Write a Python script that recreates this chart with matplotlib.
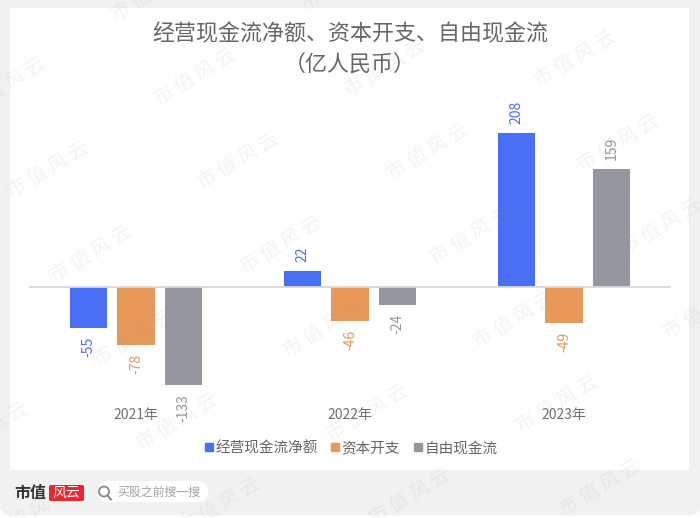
import numpy as np
import matplotlib
matplotlib.use("Agg")
import matplotlib.pyplot as plt
from matplotlib.lines import Line2D
from matplotlib.patches import Circle, FancyBboxPatch, Rectangle

plt.rcParams["font.family"] = ["Noto Sans CJK SC", "DejaVu Sans"]

years = ["2021年", "2022年", "2023年"]
series_names = ["经营现金流净额", "资本开支", "自由现金流"]
ocf = [-55, 22, 208]
capex = [-78, -46, -49]
fcf = [-133, -24, 159]
colors = ["#4a6ff5", "#e8995a", "#96969f"]

W, H = 700, 518
fig = plt.figure(figsize=(7, 5.18), dpi=100, facecolor="white")

# page background, in pixels
bg = fig.add_axes([0, 0, 1, 1], zorder=0)
bg.set_xlim(0, W)
bg.set_ylim(H, 0)
bg.axis("off")
bg.add_patch(FancyBboxPatch((6, -30), W - 12, 537, boxstyle="round,pad=0,rounding_size=6",
                            mutation_aspect=1, fc="#f1f1f1", ec="#f1f1f1", lw=12))
bg.add_patch(Rectangle((10, 8), 679, 462, fc="white", ec="none"))

# footer
bg.text(14, 493, "市值", fontsize=11.5, fontweight="bold", color="#333333", va="center")
bg.add_patch(FancyBboxPatch((49, 485), 35, 16, boxstyle="round,pad=0,rounding_size=2",
                            fc="#e8262d", ec="none"))
bg.text(66.5, 492.5, "风云", fontsize=10, style="italic", color="white", va="center", ha="center")
bg.add_patch(FancyBboxPatch((100, 483), 106, 17, boxstyle="round,pad=0,rounding_size=8.5",
                            mutation_aspect=1, fc="white", ec="white", lw=3))
bg.add_patch(Circle((104, 491.5), 5, fc="none", ec="#8a8a8a", lw=1.3))
bg.plot([107.5, 111], [495.5, 499.5], color="#8a8a8a", lw=1.4)
bg.text(117, 492, "买股之前搜一搜", fontsize=8.6, color="#a3a3a3", va="center")

# chart
ax = fig.add_axes([29 / W, 1 - 405 / H, 642 / W, 285 / H], zorder=1)
ax.patch.set_alpha(0)
x = np.arange(len(years))
offset = 0.222
width = 0.173
for i, (vals, col) in enumerate(zip([ocf, capex, fcf], colors)):
    pos = x + (i - 1) * offset
    ax.bar(pos, vals, width=width, color=col, zorder=2)
    for p, v in zip(pos, vals):
        ax.annotate(str(v), (p, v), xytext=(0, 6.5 if v > 0 else -6.5), textcoords="offset points",
                    rotation=90, ha="center", va="bottom" if v > 0 else "top",
                    fontsize=10, color=col)

ax.axhline(0, color="#d9d9d9", lw=1.3, zorder=3)
ax.set_xlim(-0.5, 2.5)
ax.set_ylim(-159.5, 225.7)
ax.set_yticks([])
ax.set_xticks(x)
ax.set_xticklabels(years, fontsize=10, color="#707070")
ax.tick_params(axis="x", length=0, pad=2)
for s in ax.spines.values():
    s.set_visible(False)

fig.text(0.5, 1 - 34 / H, "经营现金流净额、资本开支、自由现金流", fontsize=15.8, color="#666666",
         ha="center", va="center")
fig.text(0.5, 1 - 66 / H, "（亿人民币）", fontsize=15.8, color="#666666", ha="center", va="center")

handles = [Line2D([], [], ls="none", marker="s", ms=5.5, color=c) for c in colors]
fig.legend(handles, series_names, loc="center", bbox_to_anchor=(350 / W, 1 - 448 / H), ncol=3,
           frameon=False, fontsize=10.5, labelcolor="#666666", handletextpad=0.05,
           columnspacing=0.8, handlelength=0.8)

# watermark
over = fig.add_axes([0, 0, 1, 1], zorder=5)
over.set_xlim(0, W)
over.set_ylim(H, 0)
over.axis("off")
for i in range(-3, 5):
    for j in range(-1, 7):
        wx = 195 + i * 190 + j * 43
        wy = 77 - i * 9 + j * 84
        if -40 < wx < W + 40 and -30 < wy < H + 30:
            over.text(wx, wy, "市 值 风 云", fontsize=14, color="#909090", alpha=0.1, rotation=31,
                      ha="center", va="center", rotation_mode="anchor")

fig.savefig("out.png", dpi=100)
